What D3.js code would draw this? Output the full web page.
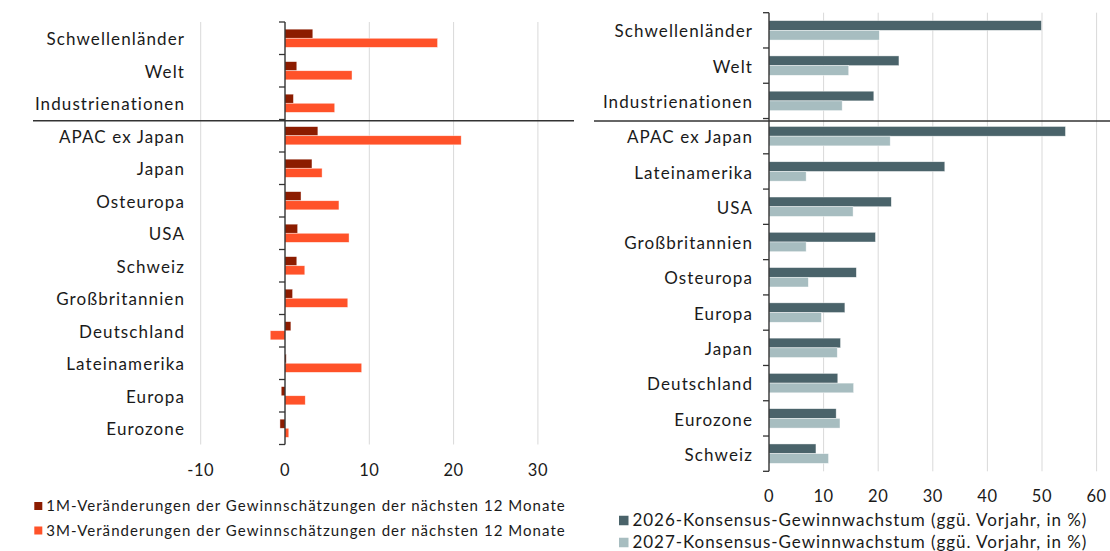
<!DOCTYPE html>
<html>
<head>
<meta charset="utf-8">
<script src="https://cdn.jsdelivr.net/npm/d3@7"></script>
<style>
  body { margin: 0; background: #fff; }
  svg { display: block; font-family: Lato, sans-serif; }
</style>
</head>
<body>
<svg id="chart" width="1110" height="551"></svg>
<script>
// left panel: changes in 12m forward earnings estimates
const leftCategories = ['Schwellenländer', 'Welt', 'Industrienationen', 'APAC ex Japan', 'Japan', 'Osteuropa',
    'USA', 'Schweiz', 'Großbritannien', 'Deutschland', 'Lateinamerika', 'Europa', 'Eurozone'];
const change1M = [3.3, 1.4, 1.0, 3.9, 3.2, 1.9, 1.5, 1.4, 0.9, 0.7, 0.15, -0.45, -0.6];
const change3M = [18.1, 7.95, 5.9, 20.9, 4.4, 6.4, 7.6, 2.35, 7.45, -1.75, 9.1, 2.4, 0.45];
const leftTicks = [-10, 0, 10, 20, 30];
const leftLegend = ['1M-Veränderungen der Gewinnschätzungen der nächsten 12 Monate',
    '3M-Veränderungen der Gewinnschätzungen der nächsten 12 Monate'];

// right panel: consensus earnings growth
const rightCategories = ['Schwellenländer', 'Welt', 'Industrienationen', 'APAC ex Japan', 'Lateinamerika', 'USA',
    'Großbritannien', 'Osteuropa', 'Europa', 'Japan', 'Deutschland', 'Eurozone', 'Schweiz'];
const growth2026 = [49.9, 23.8, 19.2, 54.3, 32.2, 22.4, 19.5, 16.0, 13.9, 13.1, 12.6, 12.3, 8.6];
const growth2027 = [20.2, 14.6, 13.4, 22.2, 6.8, 15.4, 6.8, 7.2, 9.6, 12.5, 15.5, 13.0, 10.9];
const rightTicks = [0, 10, 20, 30, 40, 50, 60];
const rightLegend = ['2026-Konsensus-Gewinnwachstum (ggü. Vorjahr, in %)',
    '2027-Konsensus-Gewinnwachstum (ggü. Vorjahr, in %)'];

const svg = d3.select('#chart');

function drawPanel(cfg) {
    const g = svg.append('g');
    const x = d3.scaleLinear().domain(cfg.domain).range(cfg.xRange);
    const y = d3.scaleBand()
        .domain(cfg.categories)
        .range(cfg.yRange)
        .paddingInner(cfg.pad)
        .paddingOuter(cfg.pad / 2);
    const sub = d3.scaleBand().domain([0, 1]).range([0, y.bandwidth()]);

    // gridlines
    g.selectAll('line.grid')
        .data(cfg.ticks.filter(d => d !== 0))
        .join('line')
        .attr('x1', d => x(d)).attr('x2', d => x(d))
        .attr('y1', cfg.yRange[0]).attr('y2', cfg.yRange[1])
        .attr('stroke', '#d9d9d9')
        .attr('stroke-width', 1);

    // bars
    const rows = cfg.categories.map((c, i) => ({ c, v: [cfg.a[i], cfg.b[i]] }));
    g.selectAll('g.row')
        .data(rows)
        .join('g')
        .attr('transform', d => `translate(0,${y(d.c)})`)
        .selectAll('rect')
        .data(d => d.v)
        .join('rect')
        .attr('x', d => x(Math.min(0, d)))
        .attr('width', d => Math.abs(x(d) - x(0)))
        .attr('y', (d, i) => sub(i))
        .attr('height', sub.bandwidth())
        .attr('fill', (d, i) => cfg.colors[i])
        .attr('stroke', '#fff')
        .attr('stroke-width', 0.6)
        .attr('stroke-opacity', 0.7);

    // category axis at zero
    const step = y.step();
    const bounds = d3.range(cfg.categories.length + 1).map(i => cfg.yRange[0] + i * step);
    g.append('line')
        .attr('x1', x(0)).attr('x2', x(0))
        .attr('y1', cfg.yRange[0]).attr('y2', cfg.yRange[1])
        .attr('stroke', '#222').attr('stroke-width', 1.3);
    g.selectAll('line.tick')
        .data(bounds)
        .join('line')
        .attr('x1', x(0) - 6).attr('x2', x(0))
        .attr('y1', d => d).attr('y2', d => d)
        .attr('stroke', '#333').attr('stroke-width', 1.3);

    g.selectAll('text.cat')
        .data(cfg.categories)
        .join('text')
        .attr('x', cfg.labelX)
        .attr('y', d => y(d) + y.bandwidth() / 2)
        .attr('dy', '0.42em')
        .attr('text-anchor', 'end')
        .attr('font-size', 17)
        .attr('letter-spacing', 1.1)
        .attr('fill', '#1a1a1a')
        .text(d => d);

    // value axis labels
    g.selectAll('text.val')
        .data(cfg.ticks)
        .join('text')
        .attr('x', d => x(d))
        .attr('y', cfg.tickLabelY)
        .attr('dy', '0.35em')
        .attr('text-anchor', 'middle')
        .attr('font-size', 16.5)
        .attr('letter-spacing', 0.6)
        .attr('fill', '#1a1a1a')
        .text(d => d);

    // separator between aggregates and regions
    g.append('line')
        .attr('x1', cfg.sepX[0]).attr('x2', cfg.sepX[1])
        .attr('y1', bounds[3] + cfg.sepOffset).attr('y2', bounds[3] + cfg.sepOffset)
        .attr('stroke', '#333').attr('stroke-width', 1.5);

    // legend
    const lg = g.selectAll('g.legend')
        .data(cfg.legend)
        .join('g')
        .attr('transform', (d, i) => `translate(${cfg.legendX},${cfg.legendY + i * cfg.legendStep})`);
    lg.append('rect')
        .attr('x', 0).attr('y', -cfg.sw / 2)
        .attr('width', cfg.sw).attr('height', cfg.sw)
        .attr('fill', (d, i) => cfg.colors[i]);
    lg.append('text')
        .attr('x', cfg.sw + 4)
        .attr('dy', '0.35em')
        .attr('font-size', cfg.legendFont)
        .attr('letter-spacing', cfg.legendSpacing)
        .attr('fill', '#1a1a1a')
        .text(d => d);
}

drawPanel({
    categories: leftCategories, a: change1M, b: change3M,
    domain: [-10, 30], xRange: [200.7, 537.9], yRange: [22, 444.5], pad: 0.44,
    ticks: leftTicks, colors: ['#8c1c00', '#ff5229'],
    labelX: 185, tickLabelY: 470.5, sepX: [33, 574], sepOffset: 1.2,
    legend: leftLegend, legendX: 34.3, legendY: 506, legendStep: 24.5, sw: 8,
    legendFont: 15, legendSpacing: 1.05
});

drawPanel({
    categories: rightCategories, a: growth2026, b: growth2027,
    domain: [0, 60], xRange: [769, 1096.6], yRange: [12.7, 471.3], pad: 0.45,
    ticks: rightTicks, colors: ['#4a636a', '#a7bdc0'],
    labelX: 753, tickLabelY: 496, sepX: [594, 1110], sepOffset: 2.5,
    legend: rightLegend, legendX: 619, legendY: 520.5, legendStep: 22, sw: 9.5,
    legendFont: 17, legendSpacing: 0.95
});
</script>
</body>
</html>
